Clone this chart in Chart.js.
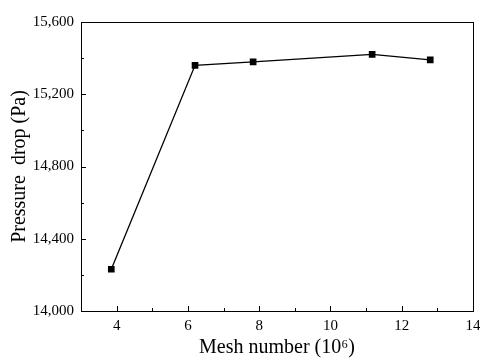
<!DOCTYPE html>
<html>
<head>
<meta charset="utf-8">
<script src="https://cdn.jsdelivr.net/npm/chart.js@4"></script>
<style>
  html, body { margin: 0; padding: 0; background: #fff; }
  #wrap { width: 480px; height: 358px; }
</style>
</head>
<body>
<div id="wrap"><canvas id="meshChart" width="480" height="358"></canvas></div>
<script>
// mesh number (10^6) vs pressure drop (Pa)
const meshNumber = [3.85, 6.2, 7.83, 11.17, 12.8];
const pressureDrop = [14231, 15360, 15379, 15421, 15390];

const xMajorTicks = [4, 6, 8, 10, 12, 14];
const xMinorTicks = [5, 7, 9, 11, 13];
const yMajorTicks = [14000, 14400, 14800, 15200, 15600];
const yMinorTicks = [14200, 14600, 15000, 15400];

const serif = "'Liberation Serif', 'DejaVu Serif', serif";

// inward ticks + full frame box
const frameTicks = {
    id: "frameTicks",
    afterDraw(c) {
        const ctx = c.ctx;
        const a = c.chartArea;
        const xs = c.scales.x;
        const ys = c.scales.y;
        ctx.save();
        ctx.strokeStyle = "#000";
        ctx.lineWidth = 1;
        ctx.strokeRect(a.left + 0.5, a.top + 0.5, a.right - a.left, a.bottom - a.top);
        ctx.beginPath();
        xMajorTicks.forEach(v => {
            const px = Math.round(xs.getPixelForValue(v)) + 0.5;
            ctx.moveTo(px, a.bottom); ctx.lineTo(px, a.bottom - 5);
        });
        xMinorTicks.forEach(v => {
            const px = Math.round(xs.getPixelForValue(v)) + 0.5;
            ctx.moveTo(px, a.bottom); ctx.lineTo(px, a.bottom - 3);
        });
        yMajorTicks.forEach(v => {
            const py = Math.round(ys.getPixelForValue(v)) + 0.5;
            ctx.moveTo(a.left, py); ctx.lineTo(a.left + 5, py);
        });
        yMinorTicks.forEach(v => {
            const py = Math.round(ys.getPixelForValue(v)) + 0.5;
            ctx.moveTo(a.left, py); ctx.lineTo(a.left + 3, py);
        });
        ctx.stroke();
        ctx.restore();
    }
};

new Chart(document.getElementById("meshChart"), {
    type: "scatter",
    data: {
        datasets: [{
            data: meshNumber.map((x, i) => ({ x: x, y: pressureDrop[i] })),
            showLine: true,
            borderColor: "#000",
            borderWidth: 1.3,
            backgroundColor: "#000",
            pointStyle: "rect",
            pointRadius: 3.8,
            pointHoverRadius: 3.8
        }]
    },
    options: {
        responsive: false,
        animation: false,
        layout: { padding: { top: 22, right: 0, left: 0, bottom: 0 } },
        plugins: {
            legend: { display: false },
            tooltip: { enabled: false }
        },
        scales: {
            x: {
                type: "linear",
                min: 3,
                max: 14,
                grid: { display: false, drawTicks: false },
                border: { display: false },
                afterFit: s => {
                    s.height = 47;
                    s.paddingRight = 7; // let "14" hang past the frame like the original
                },
                ticks: {
                    stepSize: 1,
                    autoSkip: false,
                    maxRotation: 0,
                    padding: 6,
                    color: "#000",
                    font: { family: serif, size: 15 },
                    callback: v => (xMajorTicks.includes(v) ? String(v) : "")
                },
                title: {
                    display: true,
                    text: "Mesh number (10\u2076)",
                    color: "#000",
                    font: { family: serif, size: 20 },
                    padding: { top: 0, bottom: -2 }
                }
            },
            y: {
                min: 14000,
                max: 15600,
                grid: { display: false, drawTicks: false },
                border: { display: false },
                afterFit: s => { s.width = 81; },
                ticks: {
                    stepSize: 400,
                    padding: 7,
                    color: "#000",
                    font: { family: serif, size: 15 },
                    callback: v => v.toLocaleString("en-US")
                },
                title: {
                    display: true,
                    text: "Pressure  drop (Pa)",
                    color: "#000",
                    font: { family: serif, size: 20 },
                    padding: { top: 8, bottom: 0 }
                }
            }
        }
    },
    plugins: [frameTicks]
});
</script>
</body>
</html>
